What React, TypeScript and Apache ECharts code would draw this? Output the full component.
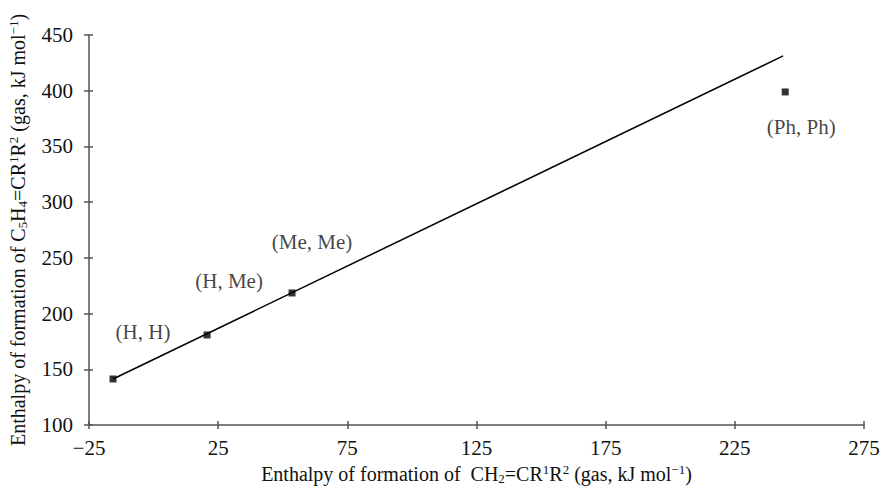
import React, { useEffect, useRef } from "react";
import * as echarts from "echarts";

// Data
const pointNames = ["(H, H)", "(H, Me)", "(Me, Me)", "(Ph, Ph)"];
const xValues = [-15.7, 20.7, 53.6, 244.5]; // CH2=CR1R2 enthalpy
const yValues = [141.3, 180.8, 218.5, 398.9]; // C5H4=CR1R2 enthalpy
const fitLineX = [-15.7, 243.7];
const fitLineY = [141.3, 431.2];
const xTicks = { min: -25, max: 275, interval: 50 };
const yTicks = { min: 100, max: 450, interval: 50 };

// Label placement (px offsets from the point), kept apart from the data
const labelOffsets = [
  [30, -47],
  [22, -54],
  [20, -51],
  [16, 35],
];

const FONT = "'Liberation Serif', 'Times New Roman', serif";
const INK = "#111";
const AXIS = "#555";

const makeRich = (size: number, small: number) => ({
  n: { fontFamily: FONT, fontSize: size, color: INK, lineHeight: size + 2 },
  sub: { fontFamily: FONT, fontSize: small, color: INK, verticalAlign: "bottom" },
  sup: { fontFamily: FONT, fontSize: small, color: INK, verticalAlign: "top" },
});

export default function App() {
  const ref = useRef<HTMLDivElement>(null);
  useEffect(() => {
    if (!ref.current) return;
    const chart = echarts.init(ref.current, null, { renderer: "svg" });
    const minus = (v: number) => String(v).replace("-", "\u2212");
    const baseAxis = {
      axisLine: { show: true, onZero: false, lineStyle: { color: AXIS, width: 1.5 } },
      splitLine: { show: false },
    };
    chart.setOption({
      animation: false,
      backgroundColor: "#fff",
      textStyle: { fontFamily: FONT, color: INK },
      grid: {
        left: 89,
        right: 17,
        top: 35,
        bottom: 61,
        containLabel: false,
        outerBoundsMode: "none",
      },
      xAxis: [
        {
          ...baseAxis,
          type: "value",
          position: "bottom",
          min: xTicks.min,
          max: xTicks.max,
          interval: xTicks.interval,
          axisTick: { show: true, inside: false, length: 4, lineStyle: { color: AXIS, width: 1.5 } },
          axisLabel: {
            margin: 12,
            fontFamily: FONT,
            fontSize: 21,
            color: INK,
            formatter: (v: number) => minus(v),
          },
          name:
            "{n|Enthalpy of formation of  CH}{sub|2}{n|=CR}{sup|1}{n|R}{sup|2}{n| (gas, kJ mol}{sup|\u22121}{n|)}",
          nameLocation: "middle",
          nameGap: 30,
          nameTextStyle: { fontFamily: FONT, fontSize: 20, color: INK, rich: makeRich(20, 13) },
        },
        {
          type: "value",
          position: "bottom",
          min: xTicks.min,
          max: xTicks.max,
          interval: xTicks.interval,
          axisLine: { show: false, onZero: false },
          axisTick: { show: true, inside: true, length: 4, lineStyle: { color: AXIS, width: 1.5 } },
          axisLabel: { show: false },
          splitLine: { show: false },
        },
      ],
      yAxis: [
        {
          ...baseAxis,
          type: "value",
          position: "left",
          min: yTicks.min,
          max: yTicks.max,
          interval: yTicks.interval,
          axisTick: { show: true, inside: false, length: 5, lineStyle: { color: AXIS, width: 1.5 } },
          axisLabel: { margin: 16, fontFamily: FONT, fontSize: 21, color: INK },
          name:
            "{n|Enthalpy of formation of C}{sub|5}{n|H}{sub|4}{n|=CR}{sup|1}{n|R}{sup|2}{n| (gas, kJ mol}{sup|\u22121}{n|)}",
          nameLocation: "middle",
          nameRotate: 90,
          nameGap: 60,
          nameTextStyle: { fontFamily: FONT, fontSize: 20, color: INK, rich: makeRich(20, 13) },
        },
        {
          type: "value",
          position: "left",
          min: yTicks.min,
          max: yTicks.max,
          interval: yTicks.interval,
          axisLine: { show: false, onZero: false },
          axisTick: { show: true, inside: true, length: 4, lineStyle: { color: AXIS, width: 1.5 } },
          axisLabel: { show: false },
          splitLine: { show: false },
        },
      ],
      series: [
        {
          type: "line",
          data: fitLineX.map((x, i) => [x, fitLineY[i]]),
          symbol: "none",
          lineStyle: { color: "#000", width: 1.5 },
          silent: true,
          z: 2,
        },
        {
          type: "scatter",
          symbol: "rect",
          symbolSize: 7,
          itemStyle: { color: "#000" },
          z: 3,
          data: xValues.map((x, i) => ({
            value: [x, yValues[i]],
            name: pointNames[i],
            label: {
              show: true,
              position: "inside",
              offset: labelOffsets[i],
              formatter: pointNames[i],
              fontFamily: FONT,
              fontSize: 21,
              color: INK,
            },
          })),
        },
      ],
    });
    return () => chart.dispose();
  }, []);
  return (
    <div
      ref={ref}
      style={{ position: "fixed", left: 0, top: 0, width: 881, height: 486, background: "#fff" }}
    />
  );
}
